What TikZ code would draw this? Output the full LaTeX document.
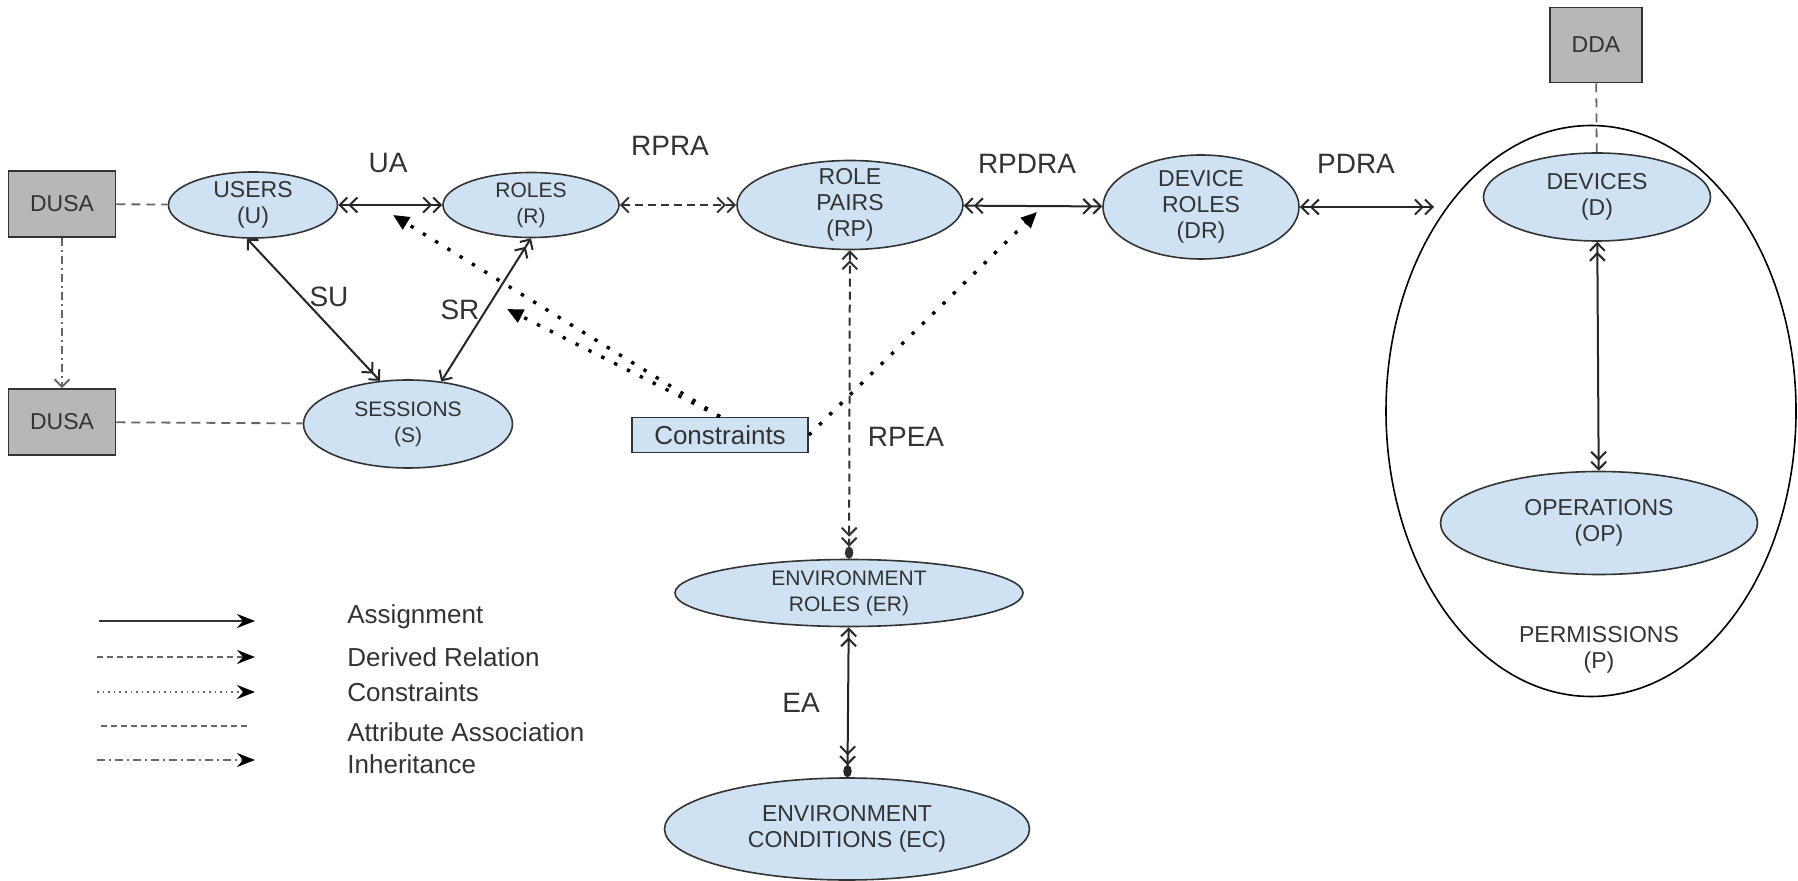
\documentclass[tikz,border=0pt]{standalone}
\usepackage{fontspec}
\setmainfont{Liberation Sans}
\usetikzlibrary{positioning,shapes.geometric,arrows.meta}
\definecolor{setblue}{HTML}{CFE2F3}
\definecolor{boxgray}{HTML}{B7B7B7}
\definecolor{ink}{HTML}{333333}
\definecolor{linegray}{HTML}{666666}
\tikzset{
  barb/.tip={Straight Barb[length=3.8pt,width=7.5pt]},
  edot/.tip={Ellipse[length=6pt,width=4.2pt]},
}
\begin{document}
\begin{tikzpicture}[x=0.5pt,y=-0.5pt,>={Straight Barb[length=3.8pt,width=7.5pt]},
    entity/.style={ellipse,draw=ink,line width=0.8pt,fill=setblue,inner xsep=0pt,inner ysep=-10pt,
      align=center,text=ink,font=\fontsize{11.5}{13}\selectfont},
    smalltext/.style={font=\fontsize{10.5}{13}\selectfont},
    attrbox/.style={rectangle,draw=ink,line width=0.9pt,fill=boxgray,inner sep=0pt,text=ink,
      font=\fontsize{11.5}{13}\selectfont},
    relname/.style={text=ink,font=\fontsize{14}{16}\selectfont},
    legtext/.style={anchor=west,inner sep=0pt,text=ink,font=\fontsize{13}{15}\selectfont},
    assign/.style={line width=1pt,black!85},
    derived/.style={line width=1pt,ink,dash pattern=on 4pt off 2.5pt},
    assoc/.style={line width=0.9pt,linegray,dash pattern=on 4.5pt off 3pt},
    inheritline/.style={line width=0.9pt,linegray,dash pattern=on 4pt off 2pt on 1pt off 2pt},
    constrain/.style={line width=1.7pt,black,dash pattern=on 1.7pt off 5.5pt,
      -{Triangle[length=8pt,width=7pt]}},
    legtip/.style={-{Stealth[length=9pt,width=7pt,inset=3pt,color=black]}},
  ]
  \useasboundingbox (0,0) rectangle (1798,881);

  % attribute boxes
  \node[attrbox,minimum width=53.5pt,minimum height=33pt] (dusaU) at (62,204) {DUSA};
  \node[attrbox,minimum width=53.5pt,minimum height=33pt] (dusaS) at (62,422) {DUSA};
  \node[attrbox,minimum width=46pt,minimum height=37.5pt] (dda) at (1596,45) {DDA};

  % sets
  \node[entity,minimum width=84.5pt,minimum height=33pt] (users) at (253,205) {USERS\\(U)};
  \node[entity,smalltext,minimum width=88pt,minimum height=32.5pt] (roles) at (531,205) {ROLES\\(R)};
  \node[entity,minimum width=113pt,minimum height=44.5pt] (rp) at (850,205) {ROLE\\PAIRS\\(RP)};
  \node[entity,minimum width=98pt,minimum height=52pt] (dr) at (1201,207) {DEVICE\\ROLES\\(DR)};
  \node[entity,smalltext,minimum width=104.5pt,minimum height=44pt] (sessions) at (408,424) {SESSIONS\\(S)};
  \node[entity,smalltext,minimum width=174pt,minimum height=33.5pt] (er) at (849,593) {ENVIRONMENT\\ROLES (ER)};
  \node[entity,minimum width=182.5pt,minimum height=51pt] (ec) at (847,829) {ENVIRONMENT\\CONDITIONS (EC)};

  % permissions
  \node[ellipse,draw=black,line width=0.8pt,inner sep=0pt,minimum width=205pt,minimum height=285.5pt] (perm) at (1591,411) {};
  \node[entity,minimum width=113.5pt,minimum height=44pt] (dev) at (1597,197) {DEVICES\\(D)};
  \node[entity,minimum width=158.5pt,minimum height=51.5pt] (ops) at (1599,523) {OPERATIONS\\(OP)};
  \node[align=center,text=ink,font=\fontsize{11.5}{13}\selectfont] (permtxt) at (1599,650) {PERMISSIONS\\(P)};

  \node[rectangle,draw=ink,line width=0.9pt,fill=setblue,minimum width=88pt,minimum height=17.5pt,
    inner sep=0pt,text=ink,font=\fontsize{13}{15}\selectfont] (cons) at (720,435) {Constraints};

  % relation names
  \node[relname] (ua) at (388,163) {UA};
  \node[relname] (rpra) at (670,146) {RPRA};
  \node[relname] (rpdra) at (1027,164) {RPDRA};
  \node[relname] (pdra) at (1356,164) {PDRA};
  \node[relname] (su) at (329,297) {SU};
  \node[relname] (sr) at (460,310) {SR};
  \node[relname] (rpea) at (906,437) {RPEA};
  \node[relname] (ea) at (801,703) {EA};

  \coordinate (pdraend) at (1434,207);
  \coordinate (uamark) at (393,215);
  \coordinate (srmark) at (507,309);
  \coordinate (rpdramark) at (1037,212);

  % assignments
  \draw[assign,<<->>] (users) -- (roles);
  \draw[assign,<<->>] (rp) -- (dr);
  \draw[assign,<<->>] (dr) -- (pdraend);
  \draw[assign,<->>] (users.260) -- (sessions.123);
  \draw[assign,<<->] (roles.270) -- (sessions.52);
  \draw[assign,<<->>] (dev) -- (ops);
  \draw[assign,arrows={barb[]barb[]}-{barb[]barb[]edot[]}] (er) -- (ec);

  % derived relations
  \draw[derived,<->>] (roles) -- (rp);
  \draw[derived,arrows={barb[]barb[]}-{barb[]barb[]edot[]}] (rp) -- (er);

  % attribute associations and inheritance
  \draw[assoc] (dusaU) -- (users);
  \draw[assoc] (dusaS) -- (sessions);
  \draw[assoc] (dda) -- (dev);
  \draw[inheritline,->] (dusaU) -- (dusaS);

  % constraints
  \draw[constrain] (cons.north) -- (uamark);
  \draw[constrain] (cons.north) -- (srmark);
  \draw[constrain] (cons.east) -- (rpdramark);

  % legend
  \coordinate (leg1a) at (99,621);  \coordinate (leg1b) at (255,621);
  \coordinate (leg2a) at (97,657);  \coordinate (leg2b) at (255,657);
  \coordinate (leg3a) at (97,692);  \coordinate (leg3b) at (255,692);
  \coordinate (leg4a) at (101,726); \coordinate (leg4b) at (247,726);
  \coordinate (leg5a) at (97,760);  \coordinate (leg5b) at (255,760);
  \draw[line width=1.1pt,black!80,legtip] (leg1a) -- (leg1b);
  \draw[line width=1pt,linegray,dash pattern=on 3pt off 2pt,legtip] (leg2a) -- (leg2b);
  \draw[line width=0.8pt,linegray,dash pattern=on 0.8pt off 2pt,legtip] (leg3a) -- (leg3b);
  \draw[line width=1pt,linegray,dash pattern=on 3pt off 2pt] (leg4a) -- (leg4b);
  \draw[inheritline,legtip] (leg5a) -- (leg5b);
  \node[legtext] (lassign) at (347,617) {Assignment};
  \node[legtext] (lderived) at (347,657) {Derived Relation};
  \node[legtext] (lcons) at (347,692) {Constraints};
  \node[legtext] (lassoc) at (347,732) {Attribute Association};
  \node[legtext] (linherit) at (347,764) {Inheritance};
\end{tikzpicture}
\end{document}
